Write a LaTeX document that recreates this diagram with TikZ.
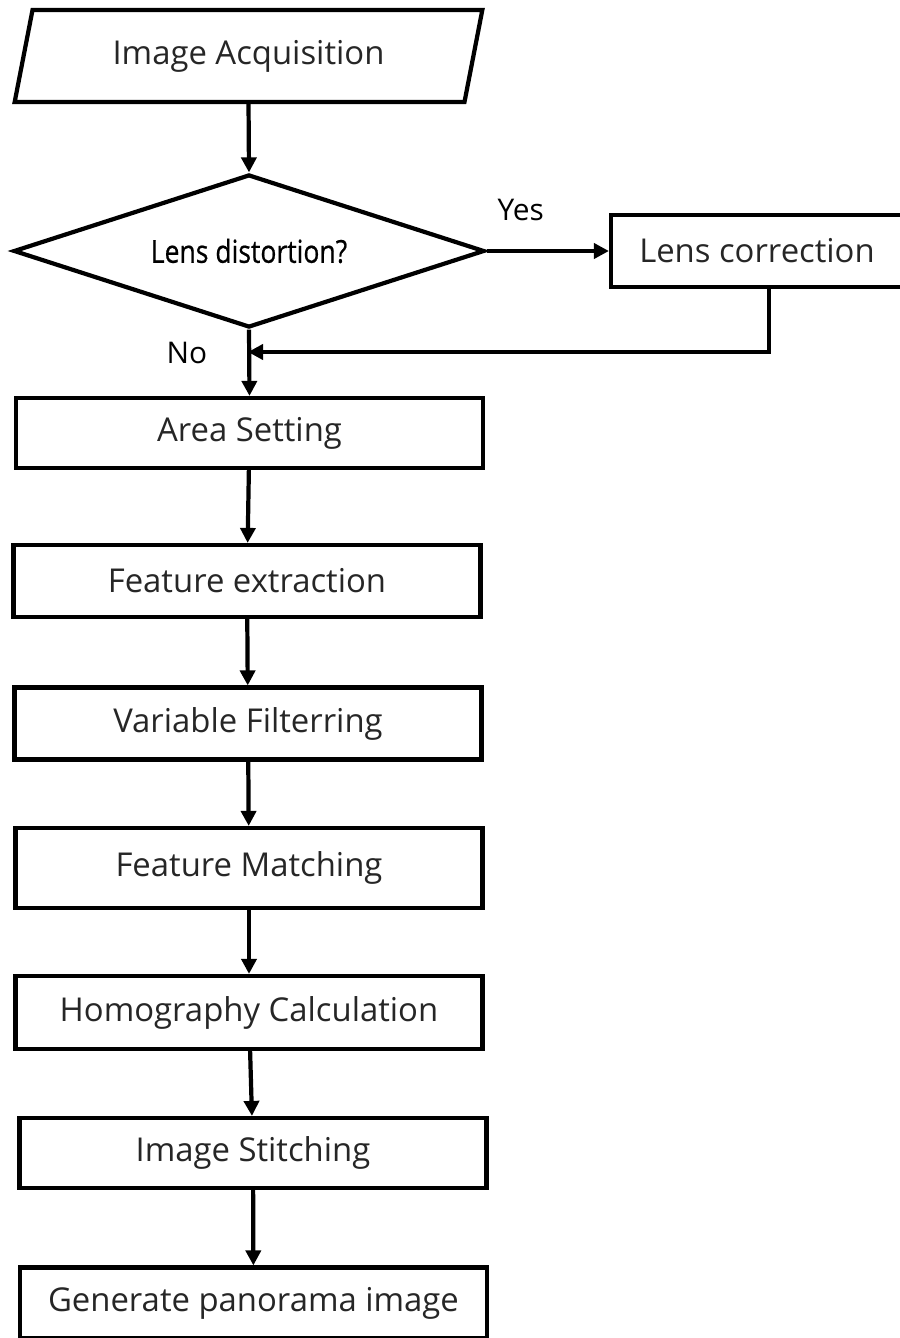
\documentclass[tikz,border=0pt]{standalone}
\usepackage{fontspec}
\setmainfont{Open Sans}
\usetikzlibrary{shapes.geometric, arrows.meta, positioning}

\tikzset{
  txt/.style={text=black!85, font=\fontsize{18.7}{22}\selectfont},
  procbox/.style={draw, rectangle, line width=2.4pt, minimum width=9.34cm, minimum height=1.44cm, txt},
  flow/.style={line width=2.4pt, -{Triangle[length=0.3cm,width=0.3cm]}}
}

\begin{document}
\begin{tikzpicture}[x=0.02cm, y=-0.02cm]
    \useasboundingbox (0,0) rectangle (899,1338);

    % input and decision
    \node[draw, trapezium, trapezium left angle=75, trapezium right angle=105,
      trapezium stretches=true, minimum width=9.38cm, minimum height=1.84cm,
      line width=2.4pt, txt] (acq) at (248.5,56) {Image Acquisition};
    \node[draw, diamond, aspect=3.08, minimum width=9.42cm, minimum height=3.06cm,
      line width=2.4pt, inner sep=0pt, text=black,
      font=\fontsize{18}{21}\selectfont\addfontfeature{FakeStretch=0.84,FakeBold=0.6}] (dist) at (249,251) {Lens distortion?};
    \node[procbox, minimum width=5.84cm] (lens) at (757,251) {Lens correction};

    % main chain
    \node[procbox, minimum height=1.4cm] (area) at (249.5,433) {Area Setting};
    \node[procbox] (feat) at (247,581) {Feature extraction};
    \node[procbox] (var) at (248,723.5) {Variable Filterring};
    \node[procbox, minimum height=1.6cm] (match) at (249,868) {Feature Matching};
    \node[procbox, minimum height=1.46cm] (homo) at (249,1012.5) {Homography Calculation};
    \node[procbox, minimum height=1.4cm] (stitch) at (253,1153) {Image Stitching};
    \node[procbox, minimum height=1.42cm] (gen) at (253.5,1303) {Generate panorama image};

    \coordinate (join) at (248,352);

    \draw[flow] (acq.south) -- (dist.north);
    \draw[flow] (dist.east) -- (lens.west)
      node[pos=0.28, above=0.45cm, text=black, font=\fontsize{17}{20}\selectfont] (yes) {Yes};
    \draw[flow] ([xshift=0.24cm]lens.south) |- (join);
    \draw[flow] (dist.south) -- (area.north);
    \node[text=black, font=\fontsize{17}{20}\selectfont] (no) at (187,353) {No};

    \draw[flow] (area) -- (feat);
    \draw[flow] (feat) -- (var);
    \draw[flow] (var) -- (match);
    \draw[flow] (match) -- (homo);
    \draw[flow] (homo) -- (stitch);
    \draw[flow] (stitch) -- (gen);
\end{tikzpicture}
\end{document}
